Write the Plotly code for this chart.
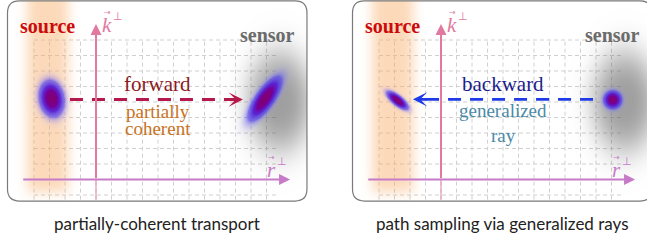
import numpy as np
import plotly.graph_objects as go

# ---------------- figure geometry ----------------
FIG_W, FIG_H = 647, 243
PX_PER_UNIT = 15.5            # one grid cell
ORIGIN_PX = (96.0, 179.5)     # axes origin of a panel, in pixels
PANEL_SPLIT_PX = 345          # where the second panel's coordinate frame starts

# ---------------- data (phase-space units) ----------------
panel_box = [-5.71, 13.61, -1.39, 11.52]   # x0, x1, y0, y1 of the rounded frame
panel_corner = 0.77
grid_cols = list(range(-4, 12))
grid_rows = list(range(-1, 10))
grid_x_span = [-4.0, 11.7]
grid_y_span = [-1.3, 9.0]

r_axis_span = [-4.79, 12.52]
k_axis_span = [0.0, 10.03]
k_axis_below = [-1.3, 0.0]

band_center, band_halfwidth, band_fade_y = -3.12, 1.45, -0.8
sensor_center = [11.85, 5.05]
sensor_half = [2.15, 3.35]

panel_names = ["forward", "backward"]
# two blobs per panel: [source blob, sensor blob]
blob_x = {"forward": [-2.86, 10.90], "backward": [-2.81, 11.08]}
blob_y = {"forward": [5.24, 5.24], "backward": [5.13, 5.17]}
blob_major = {"forward": [0.58, 0.83], "backward": [0.42, 0.29]}
blob_minor = {"forward": [0.39, 0.29], "backward": [0.16, 0.29]}
blob_angle = {"forward": [100, 55], "backward": [-39, 0]}

arrow_tail_x = {"forward": -1.68, "backward": 9.81}
arrow_tip_x = {"forward": 9.48, "backward": -1.81}
arrow_y = {"forward": 5.16, "backward": 5.17}
arrow_color = {"forward": "#b5184a", "backward": "#1f3ae8"}

title_text = {"forward": "forward", "backward": "backward"}
title_color = {"forward": "#8b1a22", "backward": "#1c1c8c"}
title_pos = {"forward": [3.97, 6.15], "backward": [3.97, 6.15]}
sub_lines = {"forward": ["partially", "coherent"], "backward": ["generalized", "ray"]}
sub_color = {"forward": "#c8731e", "backward": "#4b8aa6"}
sub_x = {"forward": [3.97, 3.97], "backward": [4.0, 4.0]}
sub_y = {"forward": [4.38, 3.27], "backward": [4.42, 2.87]}

captions = {"forward": "partially-coherent transport",
            "backward": "path sampling via generalized rays"}
caption_pos = [3.94, -2.81]

source_label_pos = [-3.16, 9.9]
sensor_label_pos = [11.06, 9.35]
k_label_pos = [0.72, 9.95]
r_label_pos = [11.3, 0.62]

K_COLOR = "#e07aa0"
R_COLOR = "#c77ac8"
GRID_COLOR = "#d0d0d0"
SERIF = "Liberation Serif"
SANS = "Lato"

# ---------------- raster layer (band, sensor shade, blobs) ----------------
step = 1.0 / PX_PER_UNIT
xs = np.arange(panel_box[0], panel_box[1], step)
ys = np.arange(panel_box[2], panel_box[3], step)
X, Y = np.meshgrid(xs, ys)

# density colour map
d_stops = [0.0, 0.03, 0.12, 0.35, 0.65, 1.0]
c_r = [170, 140, 85, 85, 118, 128]
c_g = [160, 130, 70, 30, 0, 0]
c_b = [250, 250, 240, 215, 150, 112]
c_a = [0.0, 0.25, 0.7, 0.95, 1.0, 1.0]


def over(dst_c, dst_a, src_rgb, src_a):
    out_a = src_a + dst_a * (1 - src_a)
    out_c = src_rgb * src_a[..., None] + dst_c * (1 - src_a[..., None])
    return out_c, out_a


def panel_layer(name):
    c = np.zeros(X.shape + (3,))
    a = np.zeros(X.shape)
    # source band
    band_a = 0.45 * np.exp(-((X - band_center) / band_halfwidth) ** 4)
    band_a *= 1.0 / (1.0 + np.exp(-(Y - band_fade_y) / 0.25))
    c, a = over(c, a, np.broadcast_to(np.array([248, 170, 100.0]), c.shape), band_a)
    # sensor shade
    q = ((X - sensor_center[0]) / sensor_half[0]) ** 2 + ((Y - sensor_center[1]) / sensor_half[1]) ** 2
    sens_a = 0.6 * np.exp(-q ** 1.5)
    c, a = over(c, a, np.broadcast_to(np.array([95, 95, 95.0]), c.shape), sens_a)
    # blobs
    dens = np.zeros(X.shape)
    for bx, by, sM, sm, ang in zip(blob_x[name], blob_y[name], blob_major[name],
                                   blob_minor[name], blob_angle[name]):
        t = np.deg2rad(ang)
        u = (X - bx) * np.cos(t) + (Y - by) * np.sin(t)
        v = -(X - bx) * np.sin(t) + (Y - by) * np.cos(t)
        dens = np.maximum(dens, np.exp(-0.5 * ((u / sM) ** 2 + (v / sm) ** 2)))
    rgb = np.stack([np.interp(dens, d_stops, ch) for ch in (c_r, c_g, c_b)], axis=-1)
    ba = np.interp(dens, d_stops, c_a)
    c, a = over(c, a, rgb, ba)
    safe = np.where(a > 1e-6, a, 1.0)
    col = c / safe[..., None]
    z = np.concatenate([np.clip(col, 0, 255), (a * 255)[..., None]], axis=-1)
    return np.round(z).astype(np.uint8)


fig = go.Figure()
axis_ids = {"forward": ("x", "y"), "backward": ("x2", "y2")}

annotations = []
shapes = []

for name in panel_names:
    xa, ya = axis_ids[name]
    # grid (below all traces)
    segs = [f"M{cx},{grid_y_span[0]} L{cx},{grid_y_span[1]}" for cx in grid_cols]
    segs += [f"M{grid_x_span[0]},{ry} L{grid_x_span[1]},{ry}" for ry in grid_rows]
    shapes.append(dict(type="path", path=" ".join(segs), xref=xa, yref=ya, layer="below",
                       line=dict(color=GRID_COLOR, width=1, dash="4px,3px")))
    # raster
    fig.add_trace(go.Image(z=panel_layer(name), colormodel="rgba",
                           zmin=[0, 0, 0, 0], zmax=[255, 255, 255, 255],
                           x0=xs[0], dx=step, y0=ys[0], dy=step,
                           xaxis=xa, yaxis=ya, hoverinfo="skip"))
    # k axis part below the r axis
    fig.add_trace(go.Scatter(x=[0, 0], y=k_axis_below, mode="lines", xaxis=xa, yaxis=ya,
                             line=dict(color=K_COLOR, width=2), opacity=0.45,
                             hoverinfo="skip", showlegend=False))
    # dashed transport arrow shaft
    tip = arrow_tip_x[name]
    tail = arrow_tail_x[name]
    dirn = np.sign(tip - tail)
    fig.add_trace(go.Scatter(x=[tail, tip - dirn * 0.8], y=[arrow_y[name]] * 2,
                             mode="lines", xaxis=xa, yaxis=ya,
                             line=dict(color=arrow_color[name], width=2.8, dash="13px,9px"),
                             hoverinfo="skip", showlegend=False))
    annotations.append(dict(x=tip, y=arrow_y[name], ax=tip - dirn * 1.0, ay=arrow_y[name],
                            xref=xa, yref=ya, axref=xa, ayref=ya, text="", showarrow=True,
                            arrowhead=3, arrowsize=0.85, arrowwidth=2.8,
                            arrowcolor=arrow_color[name]))
    # axes
    annotations.append(dict(x=0, y=k_axis_span[1], ax=0, ay=k_axis_span[0],
                            xref=xa, yref=ya, axref=xa, ayref=ya, text="", showarrow=True,
                            arrowhead=2, arrowsize=1.1, arrowwidth=2, arrowcolor=K_COLOR))
    annotations.append(dict(x=r_axis_span[1], y=0, ax=r_axis_span[0], ay=0,
                            xref=xa, yref=ya, axref=xa, ayref=ya, text="", showarrow=True,
                            arrowhead=2, arrowsize=1.1, arrowwidth=2, arrowcolor=R_COLOR))
    # axis labels (vector + perp)
    for (lx, ly), letter, colr in ((k_label_pos, "k", K_COLOR), (r_label_pos, "r", R_COLOR)):
        annotations.append(dict(x=lx, y=ly, xref=xa, yref=ya, text="<i>" + letter + "</i>",
                                showarrow=False, font=dict(family=SERIF, size=21, color=colr),
                                xanchor="center", yanchor="middle"))
        annotations.append(dict(x=lx + 0.02, y=ly + 0.8, xref=xa, yref=ya, text="→",
                                showarrow=False, font=dict(family="DejaVu Sans", size=8, color=colr),
                                xanchor="center", yanchor="middle"))
        annotations.append(dict(x=lx + 0.7, y=ly + 0.55, xref=xa, yref=ya, text="⊥",
                                showarrow=False, font=dict(family="DejaVu Sans", size=11, color=colr),
                                xanchor="center", yanchor="middle"))
    # labels
    annotations.append(dict(x=source_label_pos[0], y=source_label_pos[1], xref=xa, yref=ya,
                            text="<b>source</b>", showarrow=False,
                            font=dict(family=SERIF, size=20, color="#cc0a0a")))
    annotations.append(dict(x=sensor_label_pos[0], y=sensor_label_pos[1], xref=xa, yref=ya,
                            text="<b>sensor</b>", showarrow=False,
                            font=dict(family=SERIF, size=20, color="#6b6b6b")))
    annotations.append(dict(x=title_pos[name][0], y=title_pos[name][1], xref=xa, yref=ya,
                            text=title_text[name], showarrow=False,
                            font=dict(family=SERIF, size=21, color=title_color[name])))
    for t, sx, sy in zip(sub_lines[name], sub_x[name], sub_y[name]):
        annotations.append(dict(x=sx, y=sy, xref=xa, yref=ya, text=t, showarrow=False,
                                font=dict(family=SERIF, size=19, color=sub_color[name])))
    annotations.append(dict(x=caption_pos[0], y=caption_pos[1], xref=xa, yref=ya,
                            text=captions[name], showarrow=False,
                            font=dict(family=SANS, size=17, color="#222222")))
    # rounded frame
    x0, x1, y0, y1 = panel_box
    rr = panel_corner
    path = (f"M{x0 + rr},{y1} L{x1 - rr},{y1} Q{x1},{y1} {x1},{y1 - rr} "
            f"L{x1},{y0 + rr} Q{x1},{y0} {x1 - rr},{y0} L{x0 + rr},{y0} "
            f"Q{x0},{y0} {x0},{y0 + rr} L{x0},{y1 - rr} Q{x0},{y1} {x0 + rr},{y1} Z")
    shapes.append(dict(type="path", path=path, xref=xa, yref=ya,
                       line=dict(color="#7a7a7a", width=1.2), layer="above"))

ox, oy = ORIGIN_PX
split = PANEL_SPLIT_PX
y_range = [-(FIG_H - oy) / PX_PER_UNIT, oy / PX_PER_UNIT]
hidden = dict(visible=False, showgrid=False, zeroline=False, fixedrange=True)
fig.update_layout(
    width=FIG_W, height=FIG_H,
    margin=dict(l=0, r=0, t=0, b=0),
    paper_bgcolor="white", plot_bgcolor="rgba(0,0,0,0)",
    showlegend=False,
    xaxis=dict(domain=[0, split / FIG_W], range=[-ox / PX_PER_UNIT, (split - ox) / PX_PER_UNIT],
               anchor="y", **hidden),
    yaxis=dict(domain=[0, 1], range=y_range, anchor="x", **hidden),
    xaxis2=dict(domain=[split / FIG_W, 1],
                range=[-ox / PX_PER_UNIT, (FIG_W - split - ox) / PX_PER_UNIT],
                anchor="y2", **hidden),
    yaxis2=dict(domain=[0, 1], range=y_range, anchor="x2", **hidden),
    annotations=annotations,
    shapes=shapes,
)

fig.write_html("out.html", config={"displayModeBar": False},
               post_script="document.body.style.margin='0';")
